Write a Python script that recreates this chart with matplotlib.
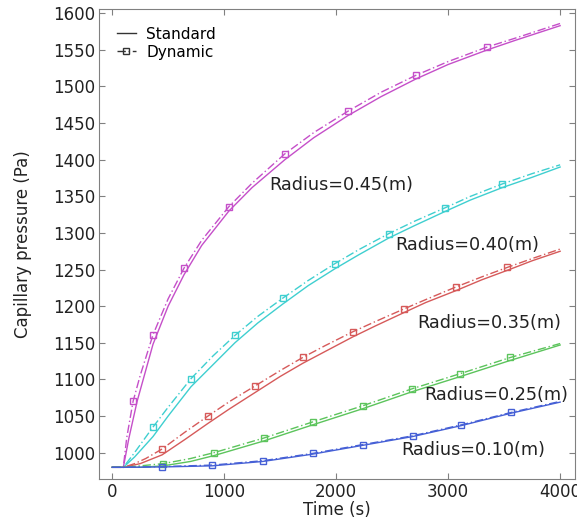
import matplotlib.pyplot as plt
from matplotlib.lines import Line2D

# curve colours per radius
colors = {'0.45': '#c54fc9', '0.40': '#3fcfd0', '0.35': '#d65a5a',
          '0.25': '#5cc45c', '0.10': '#4660d6'}

# standard model (solid lines)
std_t = {
    '0.45': [0, 100, 150, 223, 365, 500, 642, 800, 1043, 1250, 1542, 1800, 2103, 2400, 2709, 3000, 3351, 3600, 4000],
    '0.40': [0, 100, 200, 365, 500, 704, 900, 1096, 1300, 1524, 1750, 1988, 2200, 2469, 2700, 2968, 3200, 3485, 3750, 4000],
    '0.35': [0, 100, 250, 446, 650, 856, 1050, 1275, 1500, 1702, 1900, 2148, 2350, 2602, 2800, 3066, 3300, 3529, 3750, 4000],
    '0.25': [0, 100, 250, 455, 700, 909, 1355, 1791, 2237, 2674, 3110, 3556, 4000],
    '0.10': [0, 100, 446, 891, 1346, 1791, 2237, 2683, 3119, 3565, 4000],
}
std_p = {
    '0.45': [980, 980, 1020, 1070, 1148, 1200, 1243, 1283, 1330, 1362, 1400, 1430, 1460, 1486, 1510, 1530, 1550, 1563, 1583],
    '0.40': [980, 980, 994, 1022, 1050, 1090, 1120, 1150, 1177, 1203, 1228, 1251, 1270, 1293, 1310, 1329, 1345, 1362, 1376, 1390],
    '0.35': [980, 980, 985, 997, 1018, 1040, 1060, 1082, 1104, 1122, 1138, 1158, 1173, 1191, 1205, 1221, 1236, 1249, 1262, 1275],
    '0.25': [980, 980, 980, 982, 988, 996, 1016, 1038, 1060, 1083, 1104, 1126, 1147],
    '0.10': [980, 980, 980.5, 982, 988, 998, 1010, 1022, 1037, 1054, 1069],
}

# dynamic model (dash-dot lines)
dyn_t = {
    '0.45': [0, 100, 130, 187, 250, 365, 500, 642, 800, 1043, 1250, 1542, 1800, 2103, 2400, 2709, 3000, 3351, 3600, 4000],
    '0.40': [0, 100, 200, 365, 500, 704, 900, 1096, 1300, 1524, 1750, 1988, 2200, 2469, 2700, 2968, 3200, 3485, 3750, 4000],
    '0.35': [0, 100, 200, 300, 446, 650, 856, 1050, 1275, 1500, 1702, 1900, 2148, 2350, 2602, 2800, 3066, 3300, 3529, 3750, 4000],
    '0.25': [0, 100, 250, 455, 700, 909, 1355, 1791, 2237, 2674, 3110, 3556, 4000],
    '0.10': [0, 100, 446, 891, 1346, 1791, 2237, 2683, 3119, 3565, 4000],
}
dyn_p = {
    '0.45': [980, 980, 1020, 1070, 1105, 1161, 1210, 1252, 1290, 1336, 1368, 1408, 1437, 1466, 1492, 1515, 1534, 1554, 1566, 1586],
    '0.40': [980, 980, 1000, 1035, 1062, 1101, 1132, 1160, 1186, 1211, 1235, 1258, 1277, 1299, 1316, 1334, 1350, 1367, 1381, 1393],
    '0.35': [980, 980, 985, 992, 1005, 1028, 1050, 1070, 1091, 1112, 1130, 1146, 1165, 1179, 1196, 1209, 1226, 1240, 1253, 1265, 1278],
    '0.25': [980, 980, 982, 985, 992, 1000, 1020, 1042, 1064, 1087, 1108, 1130, 1149],
    '0.10': [980, 980, 981, 983, 989, 999, 1011, 1023, 1038, 1055, 1070],
}

# times where the square markers sit on each dynamic curve
mark_t = {
    '0.45': [187, 365, 642, 1043, 1542, 2103, 2709, 3351],
    '0.40': [365, 704, 1096, 1524, 1988, 2469, 2968, 3485],
    '0.35': [446, 856, 1275, 1702, 2148, 2602, 3066, 3529],
    '0.25': [455, 909, 1355, 1791, 2237, 2674, 3110, 3556],
    '0.10': [446, 891, 1346, 1791, 2237, 2683, 3119, 3565],
}

# label positions (data coords)
label_pos = {
    '0.45': (1400, 1366), '0.40': (2530, 1284), '0.35': (2720, 1177),
    '0.25': (2790, 1079), '0.10': (2580, 1003),
}

fig = plt.figure(figsize=(5.77, 5.19), dpi=100)
ax = fig.add_axes([0.172, 0.077, 0.824, 0.906])

for r in colors:
    c = colors[r]
    ax.plot(std_t[r], std_p[r], '-', color=c, lw=1.0)
    ax.plot(dyn_t[r], dyn_p[r], '-.', color=c, lw=1.0, dashes=(6, 2, 1, 2))
    idx = [dyn_t[r].index(t) for t in mark_t[r]]
    ax.plot([dyn_t[r][i] for i in idx], [dyn_p[r][i] for i in idx], 's',
            mfc='none', mec=c, ms=5, mew=1.0)
    ax.text(label_pos[r][0], label_pos[r][1], 'Radius=%s(m)' % r,
            fontsize=12.7, color='#222222', va='center', ha='left')

ax.set_xlim(-115, 4130)
ax.set_ylim(964, 1606)
ax.set_xticks([0, 1000, 2000, 3000, 4000])
ax.set_yticks(range(1000, 1601, 50))
ax.tick_params(direction='in', top=True, right=True, length=4,
               labelsize=12, colors='#222222', pad=3)
for s in ax.spines.values():
    s.set_color('#808080')
ax.tick_params(axis='both', color='#808080')

ax.set_xlabel('Time (s)', fontsize=12, color='#222222', labelpad=0)
ax.set_ylabel('Capillary pressure (Pa)', fontsize=12, color='#222222', labelpad=15)

handles = [Line2D([], [], color='#333333', lw=1.0),
           Line2D([], [], color='#333333', lw=1.0, ls='-.', marker='s',
                  mfc='none', ms=4, dashes=(6, 2, 1, 2))]
ax.legend(handles, ['Standard', 'Dynamic'], loc='upper left', frameon=False,
          fontsize=11, handlelength=1.2, handletextpad=0.7,
          bbox_to_anchor=(0.025, 0.975), borderaxespad=0.0, labelspacing=0.2)

fig.savefig('out.png', dpi=100)
